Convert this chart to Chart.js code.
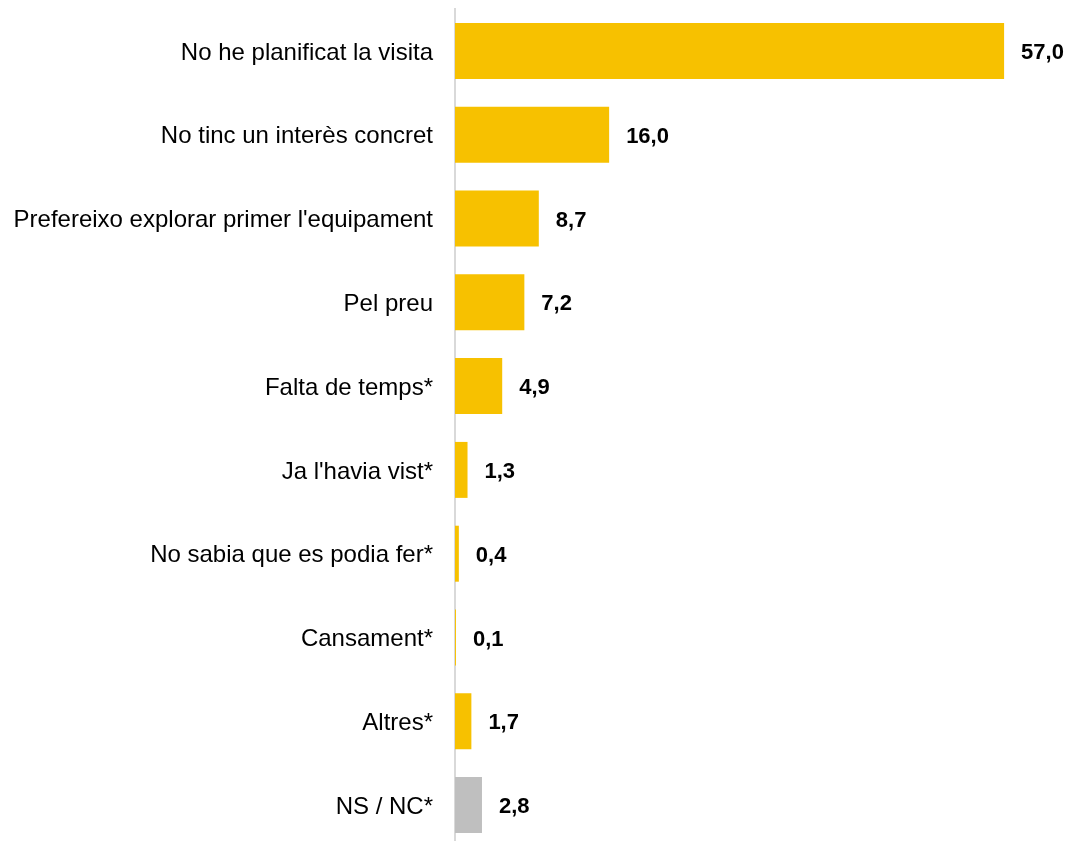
<!DOCTYPE html>
<html>
<head>
<meta charset="utf-8">
<script src="https://cdn.jsdelivr.net/npm/chart.js@4/dist/chart.umd.min.js"></script>
<style>
  html, body { margin: 0; padding: 0; background: #fff; overflow: hidden; }
  #wrap { width: 1073px; height: 856px; }
</style>
</head>
<body>
<div id="wrap"><canvas id="reasonsChart"></canvas></div>
<script>
const categories = [
  'No he planificat la visita',
  'No tinc un interès concret',
  "Prefereixo explorar primer l'equipament",
  'Pel preu',
  'Falta de temps*',
  "Ja l'havia vist*",
  'No sabia que es podia fer*',
  'Cansament*',
  'Altres*',
  'NS / NC*'
];
const values = [57.0, 16.0, 8.7, 7.2, 4.9, 1.3, 0.4, 0.1, 1.7, 2.8];
const barColors = ['#F7C100', '#F7C100', '#F7C100', '#F7C100', '#F7C100',
  '#F7C100', '#F7C100', '#F7C100', '#F7C100', '#BFBFBF'];

// draws the value next to the end of each bar
const valueLabels = {
  id: 'valueLabels',
  afterDatasetsDraw(chart) {
    const ctx = chart.ctx;
    const meta = chart.getDatasetMeta(0);
    ctx.save();
    ctx.font = 'bold 22px "Liberation Sans", Arial, sans-serif';
    ctx.fillStyle = '#000';
    ctx.textAlign = 'left';
    ctx.textBaseline = 'middle';
    meta.data.forEach((bar, i) => {
      const text = values[i].toFixed(1).replace('.', ',');
      ctx.fillText(text, bar.x + 17, bar.y + 2);
    });
    ctx.restore();
  }
};

const ctx = document.getElementById('reasonsChart').getContext('2d');
new Chart(ctx, {
  type: 'bar',
  data: {
    labels: categories,
    datasets: [{
      data: values,
      backgroundColor: barColors,
      borderWidth: 0,
      categoryPercentage: 1,
      barPercentage: 0.668
    }]
  },
  options: {
    indexAxis: 'y',
    responsive: true,
    maintainAspectRatio: false,
    animation: false,
    layout: { padding: { top: 9, bottom: 0, right: 40, left: 0 } },
    plugins: {
      legend: { display: false },
      tooltip: { enabled: false }
    },
    scales: {
      x: {
        display: false,
        min: 0,
        max: 60
      },
      y: {
        afterFit(scale) { scale.width = 455; },
        grid: { display: false, drawTicks: true, tickLength: 22 },
        border: { display: true, color: '#D9D9D9', width: 2 },
        ticks: {
          padding: 0,
          labelOffset: 2,
          color: '#000',
          font: { family: '"Liberation Sans", Arial, sans-serif', size: 24, lineHeight: 0.75 }
        }
      }
    }
  },
  plugins: [valueLabels]
});
</script>
</body>
</html>
